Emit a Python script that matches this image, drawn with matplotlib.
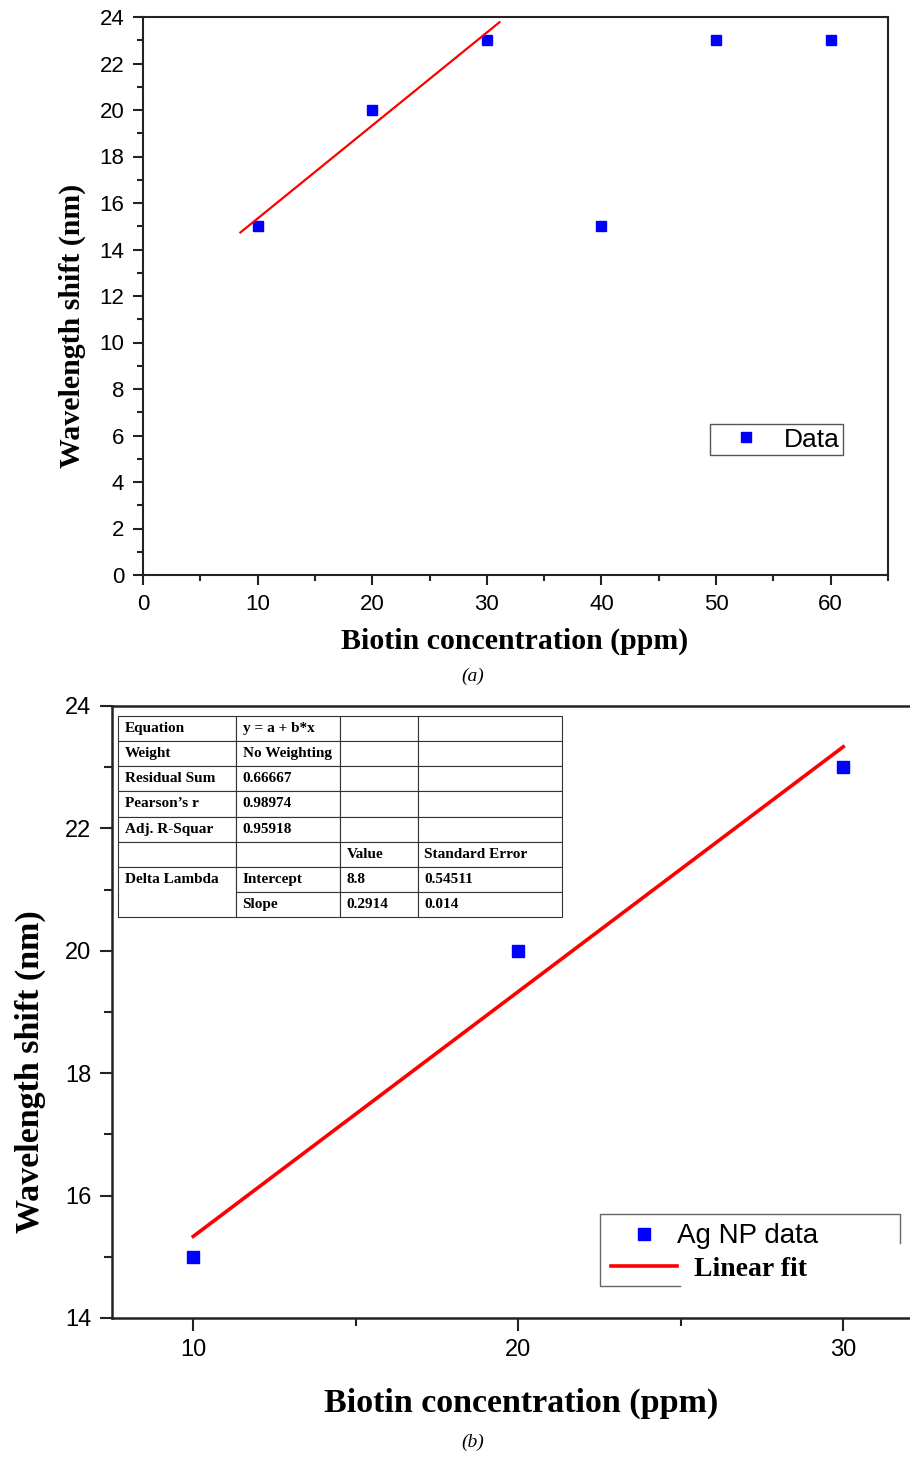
import numpy as np
import matplotlib.pyplot as plt
from matplotlib.lines import Line2D
from matplotlib.transforms import ScaledTranslation

# biotin concentration (ppm) and measured wavelength shift (nm)
conc_all = [10, 20, 30, 40, 50, 60]
shift_all = [15, 20, 23, 15, 23, 23]

# linear region used for the fit
conc_lin = [10, 20, 30]
shift_lin = [15, 20, 23]

fit_range_a = [8.5, 31.1]
fit_range_b = [10, 30]

table_rows = [
    ["Equation", "y = a + b*x", "", ""],
    ["Weight", "No Weighting", "", ""],
    ["Residual Sum", "0.66667", "", ""],
    ["Pearson\u2019s r", "0.98974", "", ""],
    ["Adj. R-Squar", "0.95918", "", ""],
    ["", "", "Value", "Standard Error"],
    ["Delta Lambda", "Intercept", "8.8", "0.54511"],
    ["", "Slope", "0.2914", "0.014"],
]

slope, intercept = np.polyfit(conc_lin, shift_lin, 1)

sans = "Liberation Sans"
serif = "Liberation Serif"

fig = plt.figure(figsize=(9.1, 14.57), dpi=100)

# ---------- (a) all data ----------
ax1 = fig.add_axes([143 / 910, 882 / 1457, 745 / 910, 558 / 1457])
ax1.plot(conc_all, shift_all, 's', color='#0000ff', ms=7.2, mec='#0000ff', label='Data')
xa = np.array(fit_range_a)
ax1.plot(xa, intercept + slope * xa, '-', color='#ff0000', lw=1.6)
ax1.set_xlim(0, 65)
ax1.set_ylim(0, 24)
ax1.set_xticks(np.arange(0, 61, 10))
ax1.set_xticks(np.arange(5, 66, 10), minor=True)
ax1.set_yticks(np.arange(0, 25, 2))
ax1.set_yticks(np.arange(1, 24, 2), minor=True)
for s in ax1.spines.values():
    s.set_linewidth(1.5)
    s.set_color('#222222')
ax1.tick_params(which='both', direction='out', width=1.5, color='#222222',
                top=False, right=False)
ax1.tick_params(which='major', length=7.5, labelsize=16, pad=6)
ax1.tick_params(which='minor', length=4.5)
for t in ax1.get_xticklabels() + ax1.get_yticklabels():
    t.set_fontfamily(sans)
ax1.set_xlabel('Biotin concentration (ppm)', fontfamily=serif, fontweight='bold',
               fontsize=21.5, va='center')
ax1.xaxis.set_label_coords(0.4993, -0.118)
ax1.set_ylabel('Wavelength shift (nm)', fontfamily=serif, fontweight='bold',
               fontsize=21.5, va='center')
ax1.yaxis.set_label_coords(-0.0953, 0.446)
leg1 = ax1.legend(loc='center', bbox_to_anchor=(0.8503, 0.2428), fancybox=False,
                  edgecolor='#555555', framealpha=1, numpoints=1, handlelength=2.45,
                  handletextpad=0.2, borderpad=0.15, borderaxespad=0,
                  prop={'family': sans, 'size': 19})
leg1.get_frame().set_linewidth(1.0)

fig.text(473 / 910, 1 - 676 / 1457, '(a)', fontfamily=serif, style='italic',
         fontsize=14, ha='center', va='center')

# ---------- (b) linear region with fit ----------
ax2 = fig.add_axes([112 / 910, 139 / 1457, 812.5 / 910, 612 / 1457])
ax2.plot(conc_lin, shift_lin, 's', color='#0000ff', ms=8.8, mec='#0000ff', label='Ag NP data')
xb = np.array(fit_range_b)
ax2.plot(xb, intercept + slope * xb, '-', color='#ff0000', lw=2.6, label='Linear fit')
ax2.set_xlim(7.5, 32.5)
ax2.set_ylim(14, 24)
ax2.set_xticks([10, 20, 30])
ax2.set_xticks([15, 25], minor=True)
ax2.set_yticks(np.arange(14, 25, 2))
ax2.set_yticks(np.arange(15, 24, 2), minor=True)
for s in ax2.spines.values():
    s.set_linewidth(1.8)
    s.set_color('#222222')
ax2.tick_params(which='both', direction='out', width=1.5, color='#222222',
                top=False, right=False)
ax2.tick_params(which='major', length=9, labelsize=17, pad=6)
ax2.tick_params(which='minor', length=6)
for t in ax2.get_xticklabels() + ax2.get_yticklabels():
    t.set_fontfamily(sans)
ax2.set_xlabel('Biotin concentration (ppm)', fontfamily=serif, fontweight='bold',
               fontsize=24.5, va='center')
ax2.xaxis.set_label_coords(0.503, -0.139)
ax2.set_ylabel('Wavelength shift (nm)', fontfamily=serif, fontweight='bold',
               fontsize=24.5, va='center')
ax2.yaxis.set_label_coords(-0.101, 0.402)

leg2 = ax2.legend(loc='center', bbox_to_anchor=(0.7415, 0.107), frameon=False,
                  numpoints=1, handlelength=2.4, handletextpad=0.0, labelspacing=0.25,
                  borderaxespad=0, prop={'size': 20})
leg2.get_texts()[0].set_fontfamily(sans)
fit_txt = leg2.get_texts()[1]
fit_txt.set_fontfamily(serif)
fit_txt.set_fontweight('bold')
fit_txt.set_transform(fit_txt.get_transform() + ScaledTranslation(0.17, 0, fig.dpi_scale_trans))
# partial legend outline
fig.add_artist(Line2D(np.array([900, 900, 600, 600, 680]) / 910,
                      1 - np.array([1243, 1214, 1214, 1286, 1286]) / 1457,
                      color='#666666', lw=1.0))

# fit statistics table
col_w = [0.2658, 0.2342, 0.1757, 0.3243]
col_px = [118, 104, 78, 144]
tab = ax2.table(cellText=table_rows, cellLoc='left', colWidths=col_w,
                bbox=[0.0074, 0.6552, 0.5464, 0.3284])
tab.auto_set_font_size(False)
for (r, c), cell in tab.get_celld().items():
    cell.set_linewidth(0.8)
    cell.set_edgecolor('#333333')
    cell.PAD = 6.5 / col_px[c]
    cell.get_text().set_fontfamily(serif)
    cell.get_text().set_fontweight('bold')
    cell.get_text().set_fontsize(11)
tab[6, 0].visible_edges = 'LTR'
tab[7, 0].visible_edges = 'LBR'

fig.text(473 / 910, 1 - 1442 / 1457, '(b)', fontfamily=serif, style='italic',
         fontsize=14, ha='center', va='center')

fig.savefig('out.png', dpi=100)
